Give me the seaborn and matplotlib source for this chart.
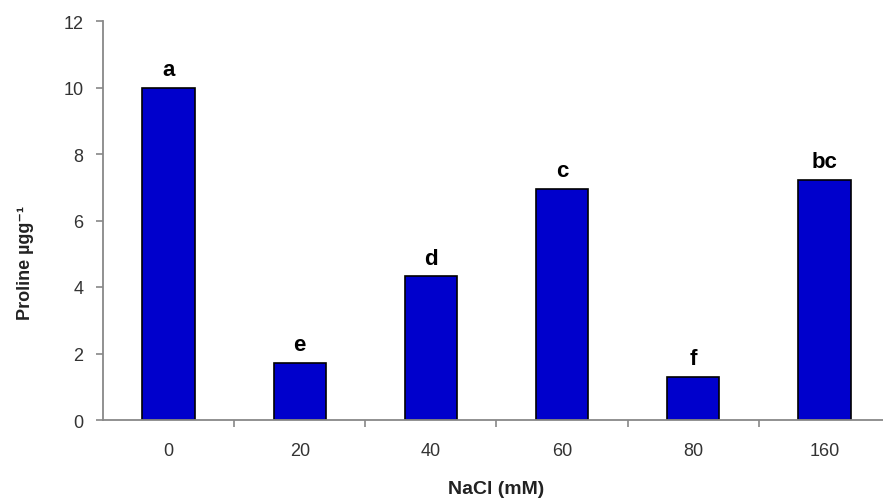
import numpy as np
import matplotlib
matplotlib.use("Agg")
import matplotlib.pyplot as plt
import seaborn as sns

# data
nacl = ["0", "20", "40", "60", "80", "160"]
proline = [10.0, 1.72, 4.32, 6.96, 1.30, 7.23]
letters = ["a", "e", "d", "c", "f", "bc"]
yticks = [0, 2, 4, 6, 8, 10, 12]

sns.set_style("white")
plt.rcParams["font.family"] = ["Liberation Sans", "DejaVu Sans"]

fig = plt.figure(figsize=(8.83, 5.02), dpi=100)
ax = fig.add_axes([103 / 883, 1 - 421 / 502, 787 / 883, 399 / 502])

sns.barplot(x=nacl, y=proline, order=nacl, color="#0000CC", saturation=1,
            width=0.4, edgecolor="black", linewidth=1.2, ax=ax)

for i, (v, lab) in enumerate(zip(proline, letters)):
    ax.text(i, v + 0.22, lab, ha="center", va="bottom", fontsize=16,
            fontweight="bold", color="black")

ax.set_xlim(-0.5, 5.5)
ax.set_ylim(0, 12)
ax.set_yticks(yticks)

# category boundary ticks on x, labels centred under bars
ax.set_xticks(np.arange(len(nacl)) + 0.5, minor=True)
ax.tick_params(axis="x", which="major", length=0, pad=16, labelsize=13, labelcolor="#333333")
ax.tick_params(axis="x", which="minor", bottom=True, length=5, color="#888888", width=1.2)
ax.tick_params(axis="y", left=True, length=5, color="#888888", width=1.2, labelsize=13,
               labelcolor="#333333", pad=9)

for side in ["top", "right"]:
    ax.spines[side].set_visible(False)
for side in ["left", "bottom"]:
    ax.spines[side].set_color("#888888")
    ax.spines[side].set_linewidth(1.3)

ax.set_xlabel("NaCl (mM)", fontsize=14, fontweight="bold", color="#222222", va="center")
ax.xaxis.set_label_coords((496 - 103) / 787, (421 - 490) / 399)
ax.set_ylabel("Proline µgg⁻¹", fontsize=13, fontweight="bold", color="#222222", va="center")
ax.yaxis.set_label_coords((25 - 103) / 787, (421 - 263) / 399)

fig.savefig("out.png", dpi=100)
plt.close(fig)
